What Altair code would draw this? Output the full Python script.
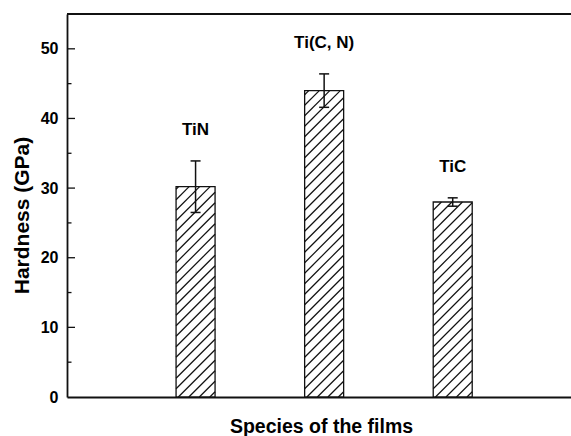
import altair as alt
import pandas as pd

# Film hardness with standard deviation
films = ["TiN", "Ti(C, N)", "TiC"]
slots = [1, 2, 3]
hardness = [30.2, 44.0, 28.0]
hardness_err = [3.7, 2.4, 0.6]

major_ticks = [0, 10, 20, 30, 40, 50]
minor_ticks = [5, 15, 25, 35, 45]

# plot geometry
W, H = 504, 383
Y_MAX = 55
X_MAX = 3.92
PX_X = W / X_MAX
PX_Y = H / Y_MAX
BAR_PX = 39
CAP_PX = 10
HATCH_STEP = 10.5
FONT = "Liberation Sans"
INK = "#111111"

df = pd.DataFrame({"film": films, "slot": slots, "hardness": hardness, "err": hardness_err})

x_scale = alt.Scale(domain=[0, X_MAX], nice=False, zero=False)
y_scale = alt.Scale(domain=[0, Y_MAX], nice=False)

# one axis definition shared by every layer so they merge cleanly
x_axis = alt.Axis(
    labels=False, ticks=False, grid=False, domain=True,
    domainColor=INK, domainWidth=1.8,
    title="Species of the films", titleFont=FONT, titleFontSize=19.5,
    titleFontWeight="bold", titleColor="black",
    titleX=254, titleY=29, titleBaseline="middle", titleAlign="center",
)
y_axis = alt.Axis(
    values=major_ticks, ticks=False, grid=False, domain=True,
    domainColor=INK, domainWidth=1.8,
    labelFont=FONT, labelFontSize=16, labelFontWeight="bold",
    labelColor="black", labelPadding=9,
    title="Hardness (GPa)", titleFont=FONT, titleFontSize=21,
    titleFontWeight="bold", titleColor="black",
    titleX=-45, titleY=201, titleAngle=270,
    titleBaseline="middle", titleAlign="center",
)


def X(field):
    return alt.X(field, type="quantitative", scale=x_scale, axis=x_axis)


def Y(field):
    return alt.Y(field, type="quantitative", scale=y_scale, axis=y_axis)


base = alt.Chart(df).transform_calculate(
    x0=f"datum.slot - {BAR_PX / 2 / PX_X}",
    x1=f"datum.slot + {BAR_PX / 2 / PX_X}",
    cx0=f"datum.slot - {CAP_PX / 2 / PX_X}",
    cx1=f"datum.slot + {CAP_PX / 2 / PX_X}",
    lo="datum.hardness - datum.err",
    hi="datum.hardness + datum.err",
)

bars = base.mark_rect(fill="white").encode(
    x=X("x0"), x2="x1:Q", y=Y("hardness"), y2=alt.Y2(datum=0),
)

# diagonal hatching inside each bar, clipped to the bar outline
hatch = base.transform_calculate(
    ks="sequence(0, 80)"
).transform_flatten(["ks"]).transform_calculate(
    hpx=f"datum.hardness * {PX_Y}",
    c=f"-{BAR_PX} + (datum.ks + 0.5) * {HATCH_STEP}",
).transform_filter("datum.c < datum.hpx").transform_calculate(
    us="max(0, -datum.c)",
    ue=f"min({BAR_PX}, datum.hpx - datum.c)",
).transform_calculate(
    hx0=f"datum.x0 + datum.us / {PX_X}",
    hx1=f"datum.x0 + datum.ue / {PX_X}",
    hy0=f"(datum.us + datum.c) / {PX_Y}",
    hy1=f"(datum.ue + datum.c) / {PX_Y}",
).mark_rule(color=INK, strokeWidth=1.2).encode(
    x=X("hx0"), x2="hx1:Q", y=Y("hy0"), y2="hy1:Q",
)

outline = base.mark_rect(fill=None, stroke=INK, strokeWidth=1.3).encode(
    x=X("x0"), x2="x1:Q", y=Y("hardness"), y2=alt.Y2(datum=0),
)

err_stem = base.mark_rule(color=INK, strokeWidth=1.5).encode(
    x=X("slot"), y=Y("lo"), y2="hi:Q",
)
err_top = base.mark_rule(color=INK, strokeWidth=1.5).encode(
    x=X("cx0"), x2="cx1:Q", y=Y("hi"),
)
err_bot = base.mark_rule(color=INK, strokeWidth=1.5).encode(
    x=X("cx0"), x2="cx1:Q", y=Y("lo"),
)

labels = base.mark_text(
    font=FONT, fontSize=17, fontWeight="bold", color="black",
    baseline="middle", align="center", dy=-31,
).encode(
    x=X("slot"), y=Y("hi"), text="film:N",
)

# inward ticks on the left axis
major = alt.Chart(pd.DataFrame({"v": major_ticks[1:]})).mark_rule(
    color=INK, strokeWidth=1.3
).encode(x=alt.value(0), x2=alt.value(8), y=Y("v"))
minor = alt.Chart(pd.DataFrame({"v": minor_ticks})).mark_rule(
    color=INK, strokeWidth=1.3
).encode(x=alt.value(0), x2=alt.value(4.5), y=Y("v"))

# top edge of the frame
top_edge = alt.Chart(pd.DataFrame({"v": [Y_MAX]})).mark_rule(
    color=INK, strokeWidth=1.8
).encode(x=alt.value(0), x2=alt.value(W), y=Y("v"))

chart = alt.layer(
    bars, hatch, outline, err_stem, err_top, err_bot, labels, major, minor, top_edge
).properties(
    width=W, height=H,
    autosize=alt.AutoSizeParams(type="none"),
    padding={"left": 67, "top": 14, "right": 0, "bottom": 39},
    background="white",
).configure_view(stroke=None)

chart.save("out.html", embed_options={"renderer": "svg", "actions": False})
